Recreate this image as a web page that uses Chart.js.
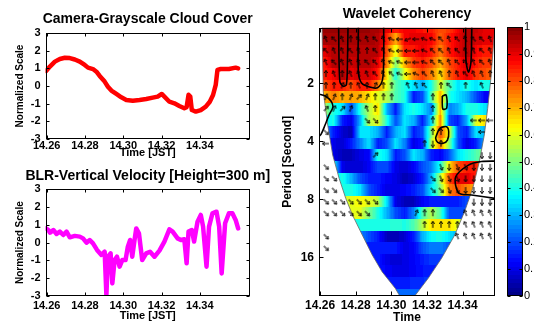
<!DOCTYPE html>
<html>
<head>
<meta charset="utf-8">
<script src="https://cdn.jsdelivr.net/npm/chart.js@4.4.1/dist/chart.umd.min.js"></script>
<style>
  body { margin: 0; background: #fff; }
  #wrap { position: relative; width: 534px; height: 327px; overflow: hidden; background: #fff; }
  canvas { position: absolute; }
</style>
</head>
<body>
<div id="wrap">
  <canvas id="cloud" width="280" height="160" style="left:0;top:0"></canvas>
  <canvas id="blr" width="280" height="167" style="left:0;top:160px"></canvas>
  <canvas id="wtc" width="230" height="327" style="left:270px;top:0"></canvas>
  <canvas id="cbar" width="34" height="327" style="left:500px;top:0"></canvas>
</div>
<script>
// ---- left panels: time series (time in JST hours, normalized values)
const timeTicks = [14.26, 14.28, 14.30, 14.32, 14.34];

const cloudTime = [14.2597, 14.2617, 14.2643, 14.2669, 14.2695, 14.2721, 14.2747, 14.2773, 14.2799, 14.2816,
  14.2842, 14.2860, 14.2877, 14.2903, 14.2920, 14.2938, 14.2964, 14.2990, 14.3016, 14.3050,
  14.3085, 14.3120, 14.3154, 14.3180, 14.3201, 14.3215, 14.3241, 14.3267, 14.3293, 14.3319,
  14.3331, 14.3341, 14.3350, 14.3358, 14.3379, 14.3405, 14.3431, 14.3452, 14.3469, 14.3483,
  14.3492, 14.3509, 14.3552, 14.3587, 14.3600];
const cloudValue = [0.85, 1.1, 1.38, 1.53, 1.6, 1.58, 1.5, 1.38, 1.19, 1.04,
  0.96, 0.81, 0.57, 0.25, -0.04, -0.26, -0.45, -0.64, -0.79, -0.83,
  -0.79, -0.74, -0.66, -0.6, -0.45, -0.6, -0.89, -0.98, -1.13, -1.26,
  -1.2, -0.5, -0.6, -1.36, -1.45, -1.36, -1.17, -0.89, -0.51, 0.06,
  0.91, 0.96, 0.96, 1.04, 1.0];

const blrTime = [14.2597, 14.2609, 14.2618, 14.2635, 14.2652, 14.2669, 14.2687, 14.2704, 14.2721, 14.2747,
  14.2773, 14.2790, 14.2808, 14.2825, 14.2842, 14.2863, 14.2886, 14.2903, 14.2912, 14.2920,
  14.2934, 14.2943, 14.2955, 14.2967, 14.2981, 14.2995, 14.3012, 14.3024, 14.3036, 14.3047,
  14.3059, 14.3068, 14.3082, 14.3099, 14.3120, 14.3140, 14.3163, 14.3189, 14.3215, 14.3241,
  14.3258, 14.3284, 14.3301, 14.3319, 14.3331, 14.3341, 14.3358, 14.3370, 14.3388, 14.3405,
  14.3417, 14.3435, 14.3448, 14.3466, 14.3487, 14.3501, 14.3514, 14.3532, 14.3552, 14.3570,
  14.3587, 14.3600];
const blrValue = [0.8, 0.71, 0.56, 0.71, 0.49, 0.62, 0.43, 0.62, 0.3, 0.38,
  0.34, 0.24, 0, 0.15, -0.04, -0.41, -0.69, -0.51, -2.95, -0.79,
  -0.6, -2.29, -0.98, -0.79, -1.35, -0.98, -0.98, -0.23, 0.15, -0.79,
  0.15, 0.8, 0.53, -0.98, -0.6, -0.51, -0.79, -0.45, 0.06, 0.75,
  0.62, 0.24, 0.15, 0.19, -1.16, 0.62, 0.71, 0.06, 1.18, 1.56,
  0.9, -1.35, 0.9, 1.65, 1.74, 0.9, -1.73, 1.09, 1.65, 1.65,
  1.28, 0.8];

// ---- right panel: wavelet coherency
const periodTicks = [2, 4, 8, 16];
// band centres, log2(period in seconds)
const rowLog2 = [0.04, 0.24, 0.44, 0.64, 0.84, 1.04, 1.24, 1.44, 1.64, 1.84, 2.04, 2.24,
  2.44, 2.64, 2.84, 3.04, 3.24, 3.44, 3.64, 3.84, 4.04, 4.24, 4.44, 4.64];
const colTime = [14.2625, 14.2675, 14.2725, 14.2775, 14.2825, 14.2875, 14.2925, 14.2975, 14.3025, 14.3075,
  14.3125, 14.3175, 14.3225, 14.3275, 14.3325, 14.3375, 14.3425, 14.3475, 14.3525, 14.3575];
const coherence = [
  [0.97,0.97,0.97,0.97,0.97,0.97,0.96,0.9,0.85,0.88,0.88,0.86,0.85,0.8,0.82,0.88,0.95,0.93,0.9,0.9],
  [0.96,0.96,0.96,0.96,0.96,0.96,0.95,0.85,0.7,0.88,0.9,0.9,0.88,0.78,0.85,0.9,0.95,0.92,0.9,0.9],
  [0.9,0.95,0.95,0.95,0.95,0.95,0.94,0.8,0.6,0.85,0.85,0.9,0.85,0.75,0.85,0.9,0.95,0.88,0.85,0.85],
  [0.85,0.95,0.95,0.92,0.95,0.95,0.9,0.75,0.5,0.7,0.82,0.85,0.8,0.7,0.8,0.85,0.92,0.85,0.82,0.82],
  [0.85,0.88,0.95,0.9,0.92,0.92,0.85,0.65,0.4,0.6,0.75,0.82,0.75,0.65,0.78,0.85,0.9,0.82,0.8,0.78],
  [0.8,0.85,0.85,0.8,0.85,0.85,0.75,0.6,0.45,0.4,0.35,0.3,0.4,0.6,0.45,0.35,0.4,0.35,0.4,0.38],
  [0.7,0.75,0.7,0.72,0.7,0.65,0.6,0.55,0.45,0.4,0.15,0.2,0.45,0.7,0.4,0.35,0.3,0.2,0.12,0.1],
  [0.55,0.4,0.35,0.2,0.4,0.55,0.65,0.3,0.15,0.35,0.4,0.35,0.25,0.7,0.25,0.3,0.4,0.4,0.35,0.3],
  [0.35,0.4,0.15,0.1,0.3,0.55,0.6,0.4,0.2,0.35,0.3,0.15,0.35,0.75,0.2,0.15,0.3,0.6,0.65,0.6],
  [0.3,0.15,0.08,0.05,0.35,0.35,0.3,0.15,0.3,0.35,0.15,0.2,0.5,0.8,0.6,0.2,0.15,0.35,0.3,0.3],
  [0.2,0.1,0.08,0.15,0.25,0.35,0.15,0.2,0.35,0.25,0.1,0.15,0.55,0.75,0.5,0.2,0.1,0.15,0.3,0.3],
  [0.3,0.1,0.06,0.06,0.1,0.12,0.4,0.35,0.15,0.2,0.35,0.3,0.15,0.12,0.2,0.35,0.4,0.45,0.5,0.5],
  [0.4,0.38,0.1,0.08,0.08,0.12,0.2,0.2,0.1,0.08,0.12,0.2,0.25,0.4,0.65,0.8,0.85,0.85,0.7,0.6],
  [0.35,0.35,0.4,0.3,0.2,0.15,0.15,0.12,0.1,0.05,0.08,0.15,0.3,0.55,0.8,0.9,0.9,0.85,0.8,0.7],
  [0.4,0.4,0.4,0.4,0.35,0.2,0.15,0.1,0.1,0.12,0.15,0.2,0.35,0.5,0.75,0.8,0.75,0.7,0.6,0.5],
  [0.5,0.5,0.55,0.6,0.62,0.6,0.55,0.35,0.1,0.06,0.06,0.12,0.15,0.15,0.15,0.15,0.2,0.2,0.2,0.2],
  [0.55,0.55,0.58,0.6,0.6,0.5,0.4,0.3,0.2,0.15,0.25,0.45,0.55,0.45,0.2,0.2,0.2,0.2,0.2,0.2],
  [0.4,0.4,0.4,0.4,0.4,0.4,0.4,0.4,0.42,0.4,0.45,0.55,0.65,0.65,0.65,0.6,0.5,0.5,0.5,0.5],
  [0.3,0.3,0.3,0.3,0.25,0.2,0.15,0.06,0.05,0.08,0.15,0.3,0.38,0.4,0.35,0.3,0.3,0.3,0.3,0.3],
  [0.2,0.2,0.2,0.2,0.18,0.15,0.15,0.15,0.15,0.1,0.12,0.2,0.25,0.25,0.2,0.2,0.2,0.2,0.2,0.2],
  [0.15,0.15,0.15,0.15,0.15,0.15,0.15,0.1,0.08,0.1,0.12,0.15,0.18,0.18,0.15,0.15,0.15,0.15,0.15,0.15],
  [0.15,0.15,0.15,0.15,0.15,0.15,0.14,0.12,0.1,0.1,0.12,0.14,0.15,0.15,0.15,0.15,0.15,0.15,0.15,0.15],
  [0.15,0.15,0.15,0.15,0.15,0.15,0.15,0.15,0.15,0.15,0.16,0.17,0.18,0.18,0.18,0.18,0.18,0.18,0.18,0.18],
  [0.22,0.22,0.22,0.22,0.22,0.22,0.22,0.22,0.22,0.22,0.22,0.22,0.22,0.22,0.22,0.22,0.22,0.22,0.22,0.22]
];

// cone of influence (time, log2 period), left side down then right side up
const coiTime = [14.2611, 14.2618, 14.2643, 14.2671, 14.2707, 14.2744, 14.2782, 14.2837, 14.2893, 14.2948,
  14.3022, 14.3050, 14.3128, 14.3207, 14.3282, 14.3356, 14.3411, 14.3457, 14.3494, 14.3522,
  14.3541, 14.3559, 14.3582];
const coiLog2 = [0.0, 1.145, 1.719, 2.236, 2.638, 2.983, 3.271, 3.616, 3.960, 4.248,
  4.534, 4.68, 4.68, 4.362, 4.017, 3.616, 3.214, 2.810, 2.352, 1.891,
  1.431, 0.914, 0.0];

// significance contours [time, log2 period]
const contourA = [[14.2704,0.0],[14.2711,0.97],[14.2730,1.05],[14.2748,1.02],[14.2754,0.57],[14.2757,0.0]];
const contourB = [[14.2815,0.0],[14.2815,0.805],[14.2833,0.995],[14.2878,1.064],[14.2922,1.076],[14.2950,0.943],[14.2957,0.598],[14.2957,0.0]];
const contourC = [[14.3417,0.0],[14.3419,0.598],[14.3433,0.805],[14.3447,0.633],[14.3452,0.0]];
const contourD = [[14.3286,1.219],[14.3308,1.202],[14.3311,1.426],[14.3289,1.443],[14.3286,1.219]];
const contourE = [[14.3254,1.891],[14.3272,1.776],[14.3310,1.748],[14.3322,1.834],[14.3315,1.978],[14.3291,2.034],[14.3260,2.017],[14.3249,1.948],[14.3254,1.891]];
const contourF = [[14.3590,2.340],[14.3506,2.348],[14.3433,2.409],[14.3361,2.616],[14.3378,2.891],[14.3450,2.926],[14.3590,2.986]];
const contourG = [[14.2590,1.184],[14.2628,1.219],[14.2661,1.305],[14.2672,1.409],[14.2650,1.547],[14.2628,1.719],[14.2606,1.874],[14.2590,1.926]];

// phase arrows: one string per band in rowLog2, one char per arrowTime column
// a..p = 0..337.5 deg (counter-clockwise from east, 22.5 deg steps), '.' = no arrow
const arrowTime = [14.2633, 14.2679, 14.2725, 14.2772, 14.2818, 14.2864, 14.2910, 14.2956, 14.3002, 14.3048,
  14.3094, 14.3140, 14.3187, 14.3233, 14.3279, 14.3325, 14.3371, 14.3417, 14.3463, 14.3509, 14.3555];
const arrowRows = [
  ".....................",
  "fgfegfgfhijihhgfgfggf",
  "gffgfegfhiiihggfgffgf",
  "fgfffggfhhiihggfggfgf",
  "efefffgfghihgffefgffe",
  "eedefedee.ffg.eg.e.f.",
  "ddedcdeee....e.......",
  "cdcd.fe......e.......",
  ".....oo......e....iii",
  "o............ee....i.",
  "i...........eme......",
  "......c............mm",
  "o.............nmnnmmm",
  "oo...........onnnmmmm",
  "oo...........oonnmmmm",
  "ooooooo...........mmm",
  "oooooo.....dee...ffff",
  "............eeeeeffff",
  "o...............fffff",
  "o....................",
  ".....................",
  ".....................",
  ".....................",
  "....................."
];

const colorTicks = [0, 0.1, 0.2, 0.3, 0.4, 0.5, 0.6, 0.7, 0.8, 0.9, 1];

// ---------------------------------------------------------------
const FONT = '"Liberation Sans", Arial, Helvetica, sans-serif';
Chart.defaults.font.family = FONT;
Chart.defaults.color = '#000';

function clamp01(v) { return Math.min(1, Math.max(0, v)); }

// matlab-style jet, 64 levels
function jet(v) {
  const q = (Math.floor(clamp01(v) * 63.999) + 0.5) / 64;
  const r = clamp01(1.5 - Math.abs(4 * q - 3));
  const g = clamp01(1.5 - Math.abs(4 * q - 2));
  const b = clamp01(1.5 - Math.abs(4 * q - 1));
  return 'rgb(' + Math.round(r * 255) + ',' + Math.round(g * 255) + ',' + Math.round(b * 255) + ')';
}

function rowValue(row, t) {
  if (t <= colTime[0]) return row[0];
  for (let j = 1; j < colTime.length; j++) {
    if (t <= colTime[j]) {
      const f = (t - colTime[j - 1]) / (colTime[j] - colTime[j - 1]);
      return row[j - 1] + f * (row[j] - row[j - 1]);
    }
  }
  return row[row.length - 1];
}

// box with inward ticks on all sides
const framePlugin = {
  id: 'frame',
  afterDraw(chart, args, opts) {
    const { ctx, chartArea: a } = chart;
    const len = opts.len || 3;
    const L = Math.round(a.left) + 0.5, R = Math.round(a.right) - 0.5;
    const T = Math.round(a.top) + 0.5, B = Math.round(a.bottom) - 0.5;
    ctx.save();
    ctx.strokeStyle = '#000';
    ctx.lineWidth = 1;
    ctx.strokeRect(L, T, R - L, B - T);
    ctx.beginPath();
    Object.values(chart.scales).forEach(s => {
      if (!s.options.display) return;
      s.ticks.forEach(t => {
        const p = Math.round(s.getPixelForValue(t.value)) + 0.5;
        if (s.isHorizontal()) {
          ctx.moveTo(p, B); ctx.lineTo(p, B - len);
          ctx.moveTo(p, T); ctx.lineTo(p, T + len);
        } else {
          ctx.moveTo(L, p); ctx.lineTo(L + len, p);
          ctx.moveTo(R, p); ctx.lineTo(R - len, p);
        }
      });
    });
    ctx.stroke();
    ctx.restore();
  }
};

// title centred over the plot area (may run wider than it)
const titlePlugin = {
  id: 'plotTitle',
  afterDraw(chart, args, opts) {
    if (!opts.text) return;
    const { ctx, chartArea: a } = chart;
    ctx.save();
    ctx.font = 'bold 14px ' + FONT;
    ctx.fillStyle = '#000';
    ctx.textAlign = 'center';
    ctx.textBaseline = 'middle';
    ctx.fillText(opts.text, (a.left + a.right) / 2, opts.y);
    ctx.restore();
  }
};

function seriesChart(id, title, titleY, xs, ys, color, pad, xHeight, tickPad) {
  return new Chart(document.getElementById(id), {
    type: 'line',
    data: {
      datasets: [{
        data: xs.map((t, i) => ({ x: t, y: ys[i] })),
        borderColor: color,
        borderWidth: 4.5,
        borderJoinStyle: 'round',
        borderCapStyle: 'round',
        pointRadius: 0,
        tension: 0,
        clip: 0
      }]
    },
    options: {
      responsive: false,
      animation: false,
      devicePixelRatio: 1,
      events: [],
      layout: { padding: pad },
      plugins: {
        legend: { display: false },
        tooltip: { enabled: false },
        plotTitle: { text: title, y: titleY },
        frame: { len: 3 }
      },
      scales: {
        x: {
          type: 'linear', min: 14.2594, max: 14.3662,
          grid: { display: false, drawTicks: false }, border: { display: false },
          afterBuildTicks: s => { s.ticks = timeTicks.map(v => ({ value: v })); },
          ticks: { callback: v => v.toFixed(2), font: { size: 11, weight: 'bold' }, padding: tickPad, maxRotation: 0, autoSkip: false },
          title: { display: true, text: 'Time [JST]', font: { size: 11, weight: 'bold' }, padding: 0 },
          afterFit: s => { s.height = xHeight; }
        },
        y: {
          min: -3, max: 3,
          grid: { display: false, drawTicks: false }, border: { display: false },
          ticks: { stepSize: 1, font: { size: 11, weight: 'bold' }, padding: 5 },
          title: { display: true, text: 'Normalized Scale', font: { size: 10, weight: 'bold' }, padding: 0 },
          afterFit: s => { s.width = 30.8; }
        }
      }
    },
    plugins: [framePlugin, titlePlugin]
  });
}

seriesChart('cloud', 'Camera-Grayscale Cloud Cover', 19, cloudTime, cloudValue, '#ff0000',
  { left: 14.7, right: 30, top: 33, bottom: 0 }, 21, 0);
seriesChart('blr', 'BLR-Vertical Velocity [Height=300 m]', 16, blrTime, blrValue, '#ff00ff',
  { left: 14.7, right: 30, top: 29.3, bottom: 4.7 }, 26.3, 3);

// heat map painted under the datasets, clipped to the cone of influence
const heatPlugin = {
  id: 'heat',
  beforeDatasetsDraw(chart) {
    const { ctx, chartArea: a, scales: { x, y } } = chart;
    ctx.save();
    ctx.beginPath();
    ctx.rect(a.left, a.top, a.right - a.left, a.bottom - a.top);
    ctx.clip();
    ctx.beginPath();
    coiTime.forEach((t, i) => {
      const px = x.getPixelForValue(t), py = y.getPixelForValue(coiLog2[i]);
      if (i === 0) ctx.moveTo(px, py); else ctx.lineTo(px, py);
    });
    ctx.closePath();
    ctx.save();
    ctx.clip();
    const half = (rowLog2[1] - rowLog2[0]) / 2;
    coherence.forEach((row, k) => {
      const y0 = Math.round(y.getPixelForValue(rowLog2[k] - half));
      const y1 = Math.round(y.getPixelForValue(rowLog2[k] + half));
      for (let px = Math.floor(a.left); px < a.right; px++) {
        ctx.fillStyle = jet(rowValue(row, x.getValueForPixel(px + 0.5)));
        ctx.fillRect(px, y0, 1, y1 - y0);
      }
    });
    ctx.restore();
    ctx.strokeStyle = '#666';
    ctx.lineWidth = 0.8;
    ctx.stroke();
    ctx.restore();
  }
};

function arrowImage() {
  const c = document.createElement('canvas');
  c.width = 8; c.height = 8;
  const g = c.getContext('2d');
  g.strokeStyle = '#000';
  g.lineWidth = 1;
  g.beginPath();
  g.moveTo(1, 4); g.lineTo(7.5, 4);
  g.moveTo(7.5, 4); g.lineTo(5, 2.2);
  g.moveTo(7.5, 4); g.lineTo(5, 5.8);
  g.stroke();
  return c;
}

const DIRS = 'abcdefghijklmnop';
const arrowPoints = [];
arrowRows.forEach((s, k) => {
  s.split('').forEach((ch, j) => {
    if (ch === '.') return;
    arrowPoints.push({ x: arrowTime[j], y: rowLog2[k], a: DIRS.indexOf(ch) * 22.5 });
  });
});

function contourSet(pts) {
  return {
    data: pts.map(p => ({ x: p[0], y: p[1] })),
    showLine: true,
    borderColor: '#000',
    borderWidth: 1.6,
    pointRadius: 0,
    tension: 0.3,
    clip: 0
  };
}

new Chart(document.getElementById('wtc'), {
  type: 'scatter',
  data: {
    datasets: [
      {
        data: arrowPoints,
        pointStyle: arrowImage(),
        pointRadius: 3,
        pointRotation: c => (c.raw ? -c.raw.a : 0),
        clip: 0
      },
      contourSet(contourA), contourSet(contourB), contourSet(contourC), contourSet(contourD),
      contourSet(contourE), contourSet(contourF), contourSet(contourG)
    ]
  },
  options: {
    responsive: false,
    animation: false,
    devicePixelRatio: 1,
    events: [],
    layout: { padding: { left: 10.8, right: 3.3, top: 27.7, bottom: 1.8 } },
    plugins: {
      legend: { display: false },
      tooltip: { enabled: false },
      plotTitle: { text: 'Wavelet Coherency', y: 14 },
      frame: { len: 4 }
    },
    scales: {
      x: {
        type: 'linear', min: 14.2594, max: 14.3582,
        grid: { display: false, drawTicks: false }, border: { display: false },
        afterBuildTicks: s => { s.ticks = timeTicks.map(v => ({ value: v })); },
        ticks: { callback: v => v.toFixed(2), font: { size: 12, weight: 'bold' }, padding: 2, maxRotation: 0, autoSkip: false },
        title: { display: true, text: 'Time', font: { size: 12, weight: 'bold' }, padding: 0 },
        afterFit: s => { s.height = 29.2; }
      },
      y: {
        type: 'linear', reverse: true, min: 0.04, max: 4.667,
        grid: { display: false, drawTicks: false }, border: { display: false },
        afterBuildTicks: s => { s.ticks = periodTicks.map(p => ({ value: Math.log2(p) })); },
        ticks: { callback: v => String(Math.round(Math.pow(2, v))), font: { size: 12, weight: 'bold' }, padding: 5, autoSkip: false },
        title: { display: true, text: 'Period [Second]', font: { size: 12, weight: 'bold' }, padding: 0 },
        afterFit: s => { s.width = 38.2; }
      }
    }
  },
  plugins: [heatPlugin, framePlugin, titlePlugin]
});

// colour bar
const barPlugin = {
  id: 'bar',
  beforeDatasetsDraw(chart) {
    const { ctx, chartArea: a, scales: { y } } = chart;
    ctx.save();
    for (let i = 0; i < 64; i++) {
      const y0 = Math.round(y.getPixelForValue((i + 1) / 64));
      const y1 = Math.round(y.getPixelForValue(i / 64));
      ctx.fillStyle = jet((i + 0.5) / 64);
      ctx.fillRect(a.left, y0, a.right - a.left, y1 - y0);
    }
    ctx.restore();
  }
};

new Chart(document.getElementById('cbar'), {
  type: 'scatter',
  data: { datasets: [{ data: [] }] },
  options: {
    responsive: false,
    animation: false,
    devicePixelRatio: 1,
    events: [],
    layout: { padding: { left: 7, right: 0, top: 27, bottom: 31 } },
    plugins: { legend: { display: false }, tooltip: { enabled: false }, frame: { len: 3 } },
    scales: {
      x: { display: false, min: 0, max: 1 },
      y: {
        position: 'right', min: 0, max: 1,
        grid: { display: false, drawTicks: false }, border: { display: false },
        afterBuildTicks: s => { s.ticks = colorTicks.map(v => ({ value: v })); },
        ticks: { callback: v => (v === 0 ? '0' : v === 1 ? '1' : v.toFixed(1)), font: { size: 11 }, padding: 1, autoSkip: false },
        afterFit: s => { s.width = 11; }
      }
    }
  },
  plugins: [barPlugin, framePlugin]
});
</script>
</body>
</html>
